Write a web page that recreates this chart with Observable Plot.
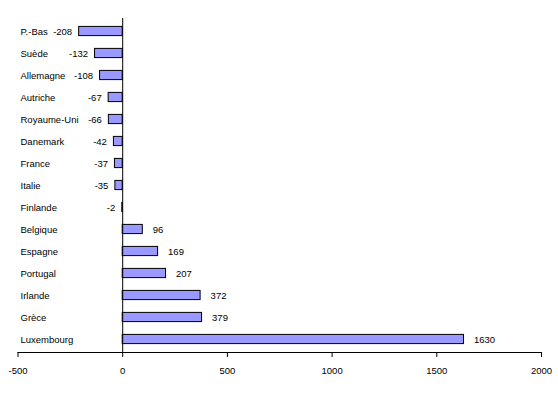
<!DOCTYPE html>
<html>
<head>
<meta charset="utf-8">
<script src="https://cdn.jsdelivr.net/npm/d3@7"></script>
<script src="https://cdn.jsdelivr.net/npm/@observablehq/plot@0.6"></script>
<style>
  html, body { margin: 0; padding: 0; background: #fff; }
  svg { display: block; }
</style>
</head>
<body>
<div id="chart"></div>
<script>
const countries = ["P.-Bas", "Suède", "Allemagne", "Autriche", "Royaume-Uni", "Danemark", "France", "Italie", "Finlande", "Belgique", "Espagne", "Portugal", "Irlande", "Grèce", "Luxembourg"];
const values = [-208, -132, -108, -67, -66, -42, -37, -35, -2, 96, 169, 207, 372, 379, 1630];
const xTicks = [-500, 0, 500, 1000, 1500, 2000];

const data = countries.map((c, i) => ({country: c, value: values[i]}));

const chart = Plot.plot({
  width: 558,
  height: 397,
  marginLeft: 17.5,
  marginRight: 17,
  marginTop: 18,
  marginBottom: 45,
  style: {fontFamily: "'Liberation Sans', Arial, sans-serif", fontSize: "9.5px", color: "#000", background: "#fff"},
  x: {domain: [-500, 2000], ticks: xTicks, label: null},
  y: {domain: countries, padding: 0, axis: null},
  marks: [
    Plot.barX(data, {x: "value", y: "country", fill: "#9999FF", stroke: "#000", strokeWidth: 1, insetTop: 6.4, insetBottom: 6.4}),
    Plot.ruleX([0], {stroke: "#000", strokeWidth: 1}),
    Plot.frame({anchor: "bottom", stroke: "#000"}),
    Plot.axisX({ticks: xTicks, tickSize: 5, tickPadding: 10, tickFormat: d => String(d), fontSize: "9.5px", label: null}),
    Plot.text(data, {y: "country", text: "country", frameAnchor: "left", textAnchor: "start", dx: 2.5, fill: "#000", fontSize: 9.5}),
    Plot.text(data.filter(d => d.value < 0), {x: "value", y: "country", text: d => String(d.value), textAnchor: "end", dx: -7, fill: "#000", fontSize: 9.5}),
    Plot.text(data.filter(d => d.value >= 0), {x: "value", y: "country", text: d => String(d.value), textAnchor: "start", dx: 10, fill: "#000", fontSize: 9.5})
  ]
});
document.getElementById("chart").appendChild(chart);
</script>
</body>
</html>
